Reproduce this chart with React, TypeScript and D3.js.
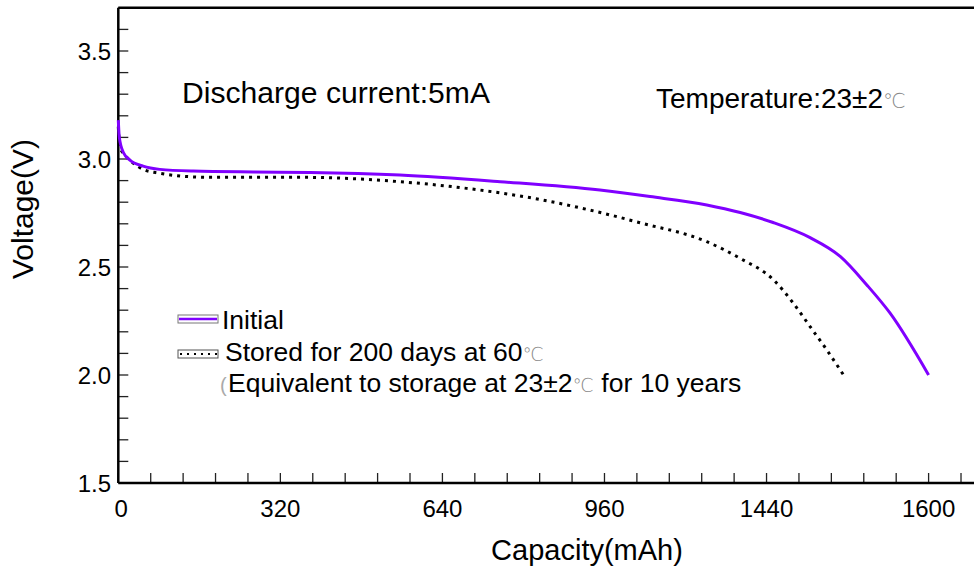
import React from "react";
import * as d3 from "d3";

// capacity (mAh) / voltage (V)
const initialCap = [0, 2, 10, 23, 49, 82, 148, 267, 379, 556, 754, 951, 1050, 1162, 1228, 1293, 1366, 1426, 1478, 1524, 1600];
const initialV = [3.18, 3.1, 3.03, 2.995, 2.967, 2.952, 2.944, 2.94, 2.938, 2.926, 2.895, 2.856, 2.826, 2.787, 2.752, 2.706, 2.636, 2.548, 2.417, 2.286, 2.0];

const storedCap = [0, 3, 13, 26, 49, 82, 115, 181, 313, 365, 556, 688, 820, 925, 1030, 1162, 1228, 1294, 1333, 1366, 1399, 1432];
const storedV = [3.15, 3.057, 3.019, 2.988, 2.952, 2.934, 2.923, 2.915, 2.915, 2.915, 2.895, 2.864, 2.818, 2.767, 2.705, 2.617, 2.54, 2.44, 2.332, 2.224, 2.116, 2.0];

const xTickValues = [0, 320, 640, 960, 1280, 1600];
const xTickLabels = ["0", "320", "640", "960", "1440", "1600"];
const yTickValues = [1.5, 2.0, 2.5, 3.0, 3.5];
const yTickLabels = ["1.5", "2.0", "2.5", "3.0", "3.5"];

const W = 974;
const H = 569;
const FONT = "'Liberation Sans', Arial, sans-serif";
const PURPLE = "#8000ff";

export default function App() {
  const x = d3.scaleLinear().domain([0, 1600]).range([118.3, 928.6]);
  const y = d3.scaleLinear().domain([1.5, 3.5]).range([483, 51]);
  const xMax = x.invert(W + 5);
  const yTop = y(3.7);

  const line = d3
    .line<[number, number]>()
    .x(d => x(d[0]))
    .y(d => y(d[1]))
    .curve(d3.curveMonotoneX);

  const initialPts = initialCap.map((c, i) => [c, initialV[i]] as [number, number]);
  const storedPts = storedCap.map((c, i) => [c, storedV[i]] as [number, number]);

  const xMinor = d3.range(0, xMax, 64);
  const yMinor = d3.range(15, 38).map(v => v / 10);

  const deg = (
    <tspan fill="#888" fontSize="0.72em" fontFamily="'DejaVu Sans', sans-serif" fontWeight={200}>℃</tspan>
  );

  return (
    <svg
      width={W}
      height={H}
      style={{ position: "absolute", left: 0, top: 0, background: "#fff" }}
      fontFamily={FONT}
    >
      <rect width={W} height={H} fill="#fff" />

      {/* minor ticks */}
      <g stroke="#222" strokeWidth={1.3}>
        {xMinor.map(v => (
          <line key={"x" + v} x1={x(v)} x2={x(v)} y1={y(1.5)} y2={y(1.5) - 10} />
        ))}
        {yMinor.map(v => (
          <line key={"y" + v} x1={x(0)} x2={x(0) + 10} y1={y(v)} y2={y(v)} />
        ))}
      </g>

      {/* frame */}
      <g stroke="#000" strokeWidth={2.5} fill="none">
        <line x1={x(0)} x2={W} y1={y(1.5)} y2={y(1.5)} />
        <line x1={x(0)} x2={W} y1={yTop} y2={yTop} />
        <line x1={x(0)} x2={x(0)} y1={yTop} y2={y(1.5)} />
      </g>

      {/* tick labels */}
      <g fontSize={24} fill="#000">
        {xTickValues.map((v, i) => (
          <text key={v} x={x(v) + (i === 0 ? 3 : 0)} y={517} textAnchor="middle">
            {xTickLabels[i]}
          </text>
        ))}
        {yTickValues.map((v, i) => (
          <text key={v} x={111} y={y(v) + 8.5} textAnchor="end">
            {yTickLabels[i]}
          </text>
        ))}
      </g>

      {/* axis titles */}
      <text x={587} y={560} fontSize={29} textAnchor="middle">
        Capacity(mAh)
      </text>
      <text transform="translate(33,209) rotate(-90)" fontSize={30} textAnchor="middle">
        Voltage(V)
      </text>

      {/* curves */}
      <path d={line(storedPts) ?? ""} fill="none" stroke="#000" strokeWidth={3} strokeDasharray="3 5" />
      <path d={line(initialPts) ?? ""} fill="none" stroke={PURPLE} strokeWidth={3} />

      {/* annotations */}
      <text x={182} y={103} fontSize={29} textLength={308} lengthAdjust="spacingAndGlyphs">
        Discharge current:5mA
      </text>
      <text x={656} y={108} fontSize={28}>
        Temperature:23±2{deg}
      </text>

      {/* legend */}
      <g>
        <rect x={178} y={315} width={40} height={8} fill="#fff" stroke="#777" strokeWidth={1} />
        <line x1={179} x2={217} y1={319} y2={319} stroke={PURPLE} strokeWidth={2.5} />
        <rect x={178} y={350} width={40} height={8} fill="#fff" stroke="#555" strokeWidth={1} />
        <line x1={180} x2={217} y1={354} y2={354} stroke="#000" strokeWidth={2} strokeDasharray="2 5" />
      </g>
      <g fontSize={26.5} fill="#000">
        <text x={222} y={329}>Initial</text>
        <text x={225} y={361}>
          Stored for 200 days at 60{deg}
        </text>
        <text x={220} y={392} fill="#aaa" fontSize={20}>(</text>
        <text x={228} y={392}>
          Equivalent to storage at 23±2{deg} for 10 years
        </text>
      </g>
    </svg>
  );
}
